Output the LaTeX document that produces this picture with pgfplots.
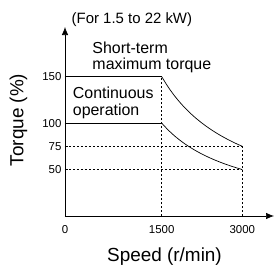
\documentclass[border=0pt]{standalone}
\usepackage{fontspec}
\setmainfont{Liberation Sans}
\usepackage{pgfplots}
\pgfplotsset{compat=1.18}
\usetikzlibrary{arrows.meta}
\begin{document}
\begin{tikzpicture}
\useasboundingbox (-65bp,-51bp) rectangle (210bp,216bp);
\begin{axis}[
 at={(0,0)}, anchor=south west, scale only axis, width=209bp, height=189bp,
 xmin=-300, xmax=3590, ymin=0, ymax=203.5,
 axis lines=left,
 axis line style={line width=0.7pt, -{Latex[length=8bp,width=6.5bp]}},
 xtick={-300,1500,3000}, xticklabels={0\hspace{6bp},1500,3000},
 ytick={50,75,100,150},
 tick align=inside, major tick length=3bp,
 tick style={line width=0.6pt, black},
 x tick style={draw=none},
 tick label style={font=\fontsize{11.5}{13}\selectfont, text=black},
 xticklabel style={yshift=-6bp},
 /pgf/number format/assume math mode=true,
 clip=false,
 xlabel={Speed (r/min)}, ylabel={Torque (\%)},
 label style={font=\fontsize{19}{22}\selectfont},
 xlabel style={at={(axis description cs:0.476,-0.214)}, anchor=center},
 ylabel style={at={(axis description cs:-0.2225,0.508)}, anchor=center},
]
% dashed guide lines
\addplot[black, line width=0.6pt, dash pattern=on 2.2bp off 1.8bp] coordinates {(1500,0) (1500,150)};
\addplot[black, line width=0.6pt, dash pattern=on 2.2bp off 1.8bp] coordinates {(3000,0) (3000,75)};
\addplot[black, line width=0.6pt, dash pattern=on 2.2bp off 1.8bp] coordinates {(-300,75) (3000,75)};
\addplot[black, line width=0.6pt, dash pattern=on 2.2bp off 1.8bp] coordinates {(-300,50) (3000,50)};
% short-term maximum torque
\addplot[black, line width=0.7pt] coordinates {(-300,150) (1500,150)};
\addplot[black, line width=0.7pt, smooth] coordinates {
 (1500,150) (1625,138.46) (1750,128.57) (1875,120) (2000,112.5) (2125,105.88)
 (2250,100) (2375,94.74) (2500,90) (2625,85.71) (2750,81.82) (2875,78.26) (3000,75)};
% continuous operation
\addplot[black, line width=0.7pt] coordinates {(-300,100) (1500,100)};
\addplot[black, line width=0.7pt, smooth] coordinates {
 (1500,100) (1625,92.31) (1750,85.71) (1875,80) (2000,75) (2125,70.59)
 (2250,66.67) (2375,63.16) (2500,60) (2625,57.14) (2750,54.55) (2875,52.17) (3000,50)};
\node[font=\fontsize{15}{17}\selectfont, anchor=center, inner sep=0pt] at (axis description cs:0.32,1.041) {(For 1.5 to 22 kW)};
\node[font=\fontsize{16}{16.7}\selectfont, anchor=north west, align=left, inner sep=0pt] at (axis description cs:0.1306,0.923) {Short-term\\maximum torque};
\node[font=\fontsize{16}{16.7}\selectfont, anchor=north west, align=left, inner sep=0pt] at (axis description cs:0.0368,0.6836) {Continuous\\operation};
\end{axis}
\end{tikzpicture}
\end{document}
